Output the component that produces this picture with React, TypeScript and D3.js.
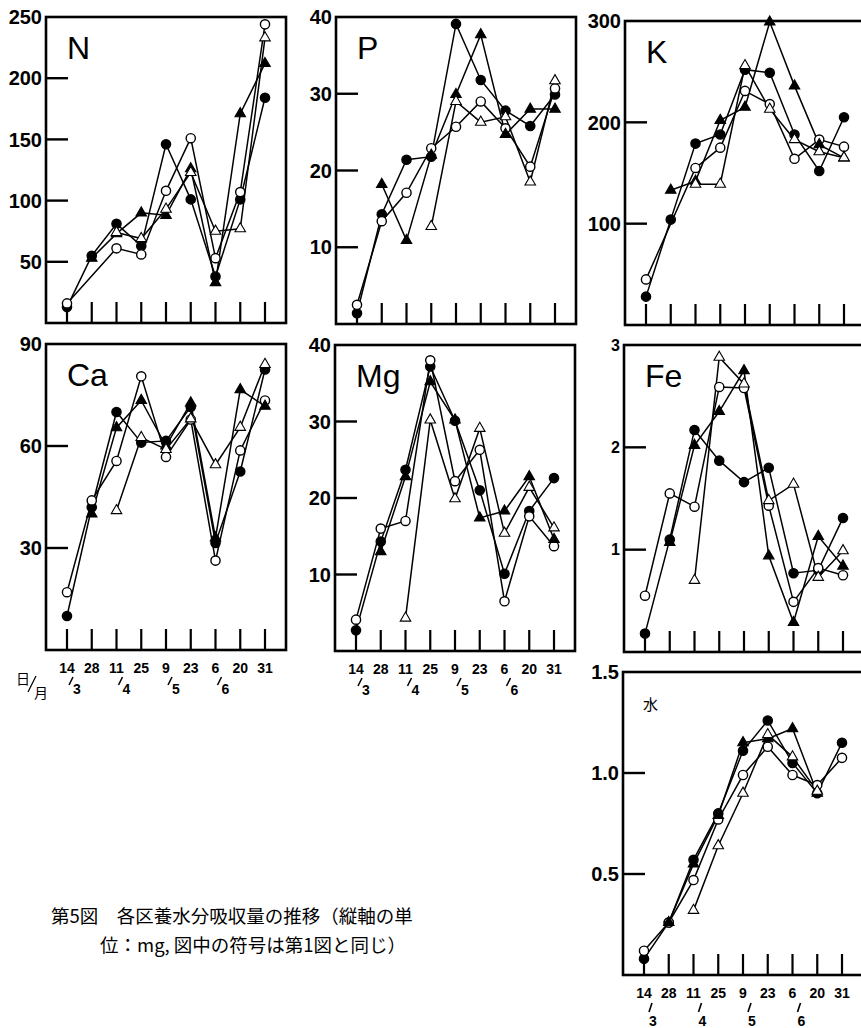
import React from 'react';
import * as d3 from 'd3';

// sampling dates (day / month)
const dates = ['14', '28', '11', '25', '9', '23', '6', '20', '31'];
const months = ['3', null, '4', null, '5', null, '6', null, null];

// ● filled circle, ○ open circle, ▲ filled triangle, △ open triangle
const nFilledCircle = [13, 55, 81, 63, 146, 101, 38, 101, 184];
const nOpenCircle = [16, null, 61, 56, 108, 151, 53, 107, 244];
const nFilledTri = [null, 53, 73, 90, 88, 126, 33, 171, 212];
const nOpenTri = [null, null, 74, 69, 93, 123, 75, 77, 233];

const pFilledCircle = [1.4, 14.3, 21.4, 21.8, 39.1, 31.8, 27.8, 25.8, 29.9];
const pOpenCircle = [2.5, 13.4, 17.1, 22.9, 25.7, 29.0, 25.5, 20.5, 30.7];
const pFilledTri = [null, 18.2, 10.9, 22.0, 29.9, 37.7, 24.7, 28.0, 28.0];
const pOpenTri = [null, null, null, 12.7, 29.0, 26.3, 27.0, 18.5, 31.7];

const kFilledCircle = [28, 104, 179, 188, 252, 249, 188, 152, 205];
const kOpenCircle = [45, null, 155, 175, 231, 218, 164, 183, 176];
const kFilledTri = [null, 133, 142, 202, 215, 299, 236, 178, 165];
const kOpenTri = [null, null, 139, 139, 256, 213, 183, 171, 165];

const caFilledCircle = [10, 42, 70, 61, 61.5, 71.5, 31.5, 52.5, 82.5];
const caOpenCircle = [17, 44, 55.6, 80.5, 56.8, 67.8, 26.3, 58.7, 73.4];
const caFilledTri = [null, 40, 65.4, 73.4, 60, 72.7, 33, 76.6, 71.7];
const caOpenTri = [null, null, 41, 62.5, 59, 68, 54.5, 65.5, 84];

const mgFilledCircle = [2.7, 14.3, 23.7, 37.2, 30.1, 21, 10.1, 18.3, 22.6];
const mgOpenCircle = [4.1, 16, 17, 38, 22.2, 26.3, 6.5, 17.6, 13.7];
const mgFilledTri = [null, 13, 22.8, 35.2, 30.2, 17.4, 18.3, 22.8, 14.6];
const mgOpenTri = [null, null, 4.3, 30.2, 19.9, 29.1, 15.4, 21.4, 16.1];

const feFilledCircle = [0.18, 1.1, 2.17, 1.87, 1.66, 1.8, 0.77, 0.8, 1.31];
const feOpenCircle = [0.55, 1.55, 1.42, 2.59, 2.58, 1.43, 0.49, 0.82, 0.75];
const feFilledTri = [null, 1.07, 2.02, 2.35, 2.75, 0.94, 0.29, 1.13, 0.84];
const feOpenTri = [null, null, 0.7, 2.88, 2.62, 1.48, 1.64, 0.73, 0.99];

const waterFilledCircle = [0.08, 0.26, 0.57, 0.8, 1.11, 1.26, 1.05, 0.9, 1.15];
const waterOpenCircle = [0.12, 0.26, 0.47, 0.77, 0.99, 1.13, 0.99, 0.94, 1.075];
const waterFilledTri = [null, 0.26, 0.55, 0.79, 1.15, 1.17, 1.22, 0.9, null];
const waterOpenTri = [null, null, 0.32, 0.64, 0.9, 1.19, 1.08, 0.91, null];

const nTicks = [50, 100, 150, 200, 250];
const pTicks = [10, 20, 30, 40];
const kTicks = [100, 200, 300];
const caTicks = [30, 60, 90];
const mgTicks = [10, 20, 30, 40];
const feTicks = [1, 2, 3];
const waterTicks = [0.5, 1.0, 1.5];

const W = 240;

const panels = [
  { label: 'N', left: 46, top: 17, bottom: 323, ticks: nTicks, fmt: 'd', fs: 20, series: [nFilledCircle, nOpenCircle, nFilledTri, nOpenTri] },
  { label: 'P', left: 336, top: 17, bottom: 324, ticks: pTicks, fmt: 'd', fs: 20, series: [pFilledCircle, pOpenCircle, pFilledTri, pOpenTri] },
  { label: 'K', left: 625, top: 21, bottom: 325, ticks: kTicks, fmt: 'd', fs: 20, series: [kFilledCircle, kOpenCircle, kFilledTri, kOpenTri] },
  { label: 'Ca', left: 46, top: 344, bottom: 650, ticks: caTicks, fmt: 'd', fs: 20, xlab: 'row', series: [caFilledCircle, caOpenCircle, caFilledTri, caOpenTri] },
  { label: 'Mg', left: 335, top: 345, bottom: 651, ticks: mgTicks, fmt: 'd', fs: 20, xlab: 'row', series: [mgFilledCircle, mgOpenCircle, mgFilledTri, mgOpenTri] },
  { label: 'Fe', left: 624, top: 345, bottom: 652, ticks: feTicks, fmt: 'd', fs: 16, series: [feFilledCircle, feOpenCircle, feFilledTri, feOpenTri] },
  { label: '水', left: 623, top: 672, bottom: 975, ticks: waterTicks, fmt: '.1f', fs: 20, xlab: 'stack', small: true, series: [waterFilledCircle, waterOpenCircle, waterFilledTri, waterOpenTri] },
];

const numFont = '"Liberation Sans", Arial, sans-serif';
const cjk = '"Noto Sans CJK JP", sans-serif';
const triPath = d3.symbol(d3.symbolTriangle, 48)() as string;

function Panel({ p }: { p: any }) {
  const x = d3.scalePoint<number>().domain(d3.range(dates.length)).range([p.left + 21, p.left + 219]);
  const ymax = p.ticks[p.ticks.length - 1];
  const y = d3.scaleLinear().domain([0, ymax]).range([p.bottom, p.top]);
  const f = d3.format(p.fmt);
  const line = d3.line<[number, number]>().x(d => x(d[0]) as number).y(d => y(d[1]));
  const stack = p.xlab === 'stack';

  return (
    <g>
      {/* frame */}
      <rect x={p.left} y={p.top} width={W} height={p.bottom - p.top} fill="none" stroke="#000" strokeWidth={2.6} />
      {/* y ticks */}
      {p.ticks.map((t: number) => (
        <g key={t}>
          {t < ymax && <line x1={p.left} x2={p.left + 22} y1={y(t)} y2={y(t)} stroke="#000" strokeWidth={2.4} />}
          <text x={p.left - 4} y={y(t)} dy="0.36em" textAnchor="end" fontFamily={numFont} fontWeight="bold" fontSize={p.fs}>
            {f(t)}
          </text>
        </g>
      ))}
      {/* x ticks */}
      {dates.map((d, i) => (
        <line key={i} x1={x(i)} x2={x(i)} y1={p.bottom} y2={p.bottom - 21} stroke="#000" strokeWidth={2.2} />
      ))}
      {/* element label */}
      {p.small ? (
        <text x={p.left + 20} y={p.top + 38} fontFamily={cjk} fontSize={15}>{p.label}</text>
      ) : (
        <text x={p.left + 21} y={p.top + 42} fontFamily={numFont} fontSize={32}>{p.label}</text>
      )}
      {/* series lines */}
      {p.series.map((s: (number | null)[], k: number) => {
        const pts = s.map((v, i) => [i, v] as [number, number | null]).filter(d => d[1] != null) as [number, number][];
        return <path key={k} d={line(pts) as string} fill="none" stroke="#000" strokeWidth={1.5} />;
      })}
      {/* markers */}
      {p.series.map((s: (number | null)[], k: number) =>
        s.map((v, i) => {
          if (v == null) return null;
          const cx = x(i) as number;
          const cy = y(v);
          const fill = k === 0 || k === 2 ? '#000' : '#fff';
          if (k < 2) return <circle key={k + '-' + i} cx={cx} cy={cy} r={4.6} fill={fill} stroke="#000" strokeWidth={1.4} />;
          return <path key={k + '-' + i} d={triPath} transform={`translate(${cx},${cy})`} fill={fill} stroke="#000" strokeWidth={1.1} />;
        })
      )}
      {/* x labels: day, with a slash and the month under it */}
      {p.xlab &&
        dates.map((d, i) => {
          const tx = x(i) as number;
          return (
            <g key={'xl' + i}>
              <text x={tx} y={p.bottom + 23} textAnchor="middle" fontFamily={numFont} fontWeight="bold" fontSize={14}>{d}</text>
              {months[i] &&
                (stack ? (
                  <>
                    <line x1={tx + 5} x2={tx + 8} y1={p.bottom + 37} y2={p.bottom + 28} stroke="#000" strokeWidth={1.6} />
                    <text x={tx + 9} y={p.bottom + 51} textAnchor="middle" fontFamily={numFont} fontWeight="bold" fontSize={14}>{months[i]}</text>
                  </>
                ) : (
                  <>
                    <line x1={tx + 2} x2={tx + 6} y1={p.bottom + 35} y2={p.bottom + 27} stroke="#000" strokeWidth={1.6} />
                    <text x={tx + 10} y={p.bottom + 44} textAnchor="middle" fontFamily={numFont} fontWeight="bold" fontSize={14}>{months[i]}</text>
                  </>
                ))}
            </g>
          );
        })}
    </g>
  );
}

export default function App() {
  return (
    <svg width={861} height={1028} style={{ position: 'absolute', left: 0, top: 0, background: '#fff' }}>
      <rect width={861} height={1028} fill="#fff" />
      {panels.map(p => (
        <Panel key={p.label} p={p} />
      ))}
      {/* day / month key */}
      <text x={16} y={684} fontFamily={cjk} fontSize={14}>日</text>
      <line x1={28} x2={36} y1={692} y2={676} stroke="#000" strokeWidth={1.3} />
      <text x={34} y={698} fontFamily={cjk} fontSize={14}>月</text>
      {/* caption */}
      <text x={51} y={923} fontFamily={cjk} fontSize={18.5}>第5図　各区養水分吸収量の推移（縦軸の単</text>
      <text x={100} y={952} fontFamily={cjk} fontSize={18.5}>位：mg, 図中の符号は第1図と同じ）</text>
    </svg>
  );
}
